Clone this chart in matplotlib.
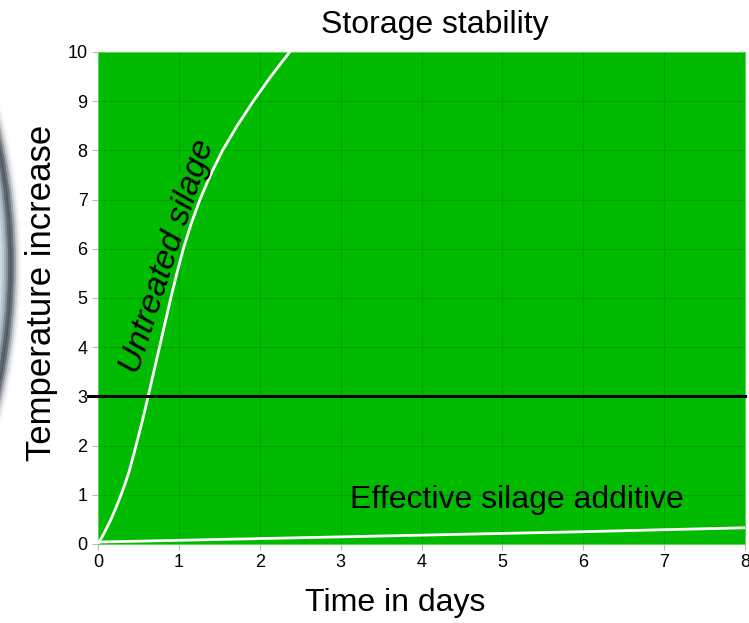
import numpy as np
import matplotlib.pyplot as plt
from matplotlib.patches import Ellipse

plt.rcParams['font.family'] = ['Liberation Sans', 'DejaVu Sans']

# Untreated silage
untreated_days = [0.00, 0.085, 0.16, 0.225, 0.285, 0.34, 0.39, 0.47, 0.548, 0.62,
                  0.69, 0.76, 0.83, 0.90, 0.975, 1.055, 1.15, 1.26, 1.39, 1.54,
                  1.72, 1.92, 2.135, 2.37]
untreated_temp = [0.0, 0.25, 0.5, 0.75, 1.0, 1.25, 1.5, 2.0, 2.5, 3.0,
                  3.5, 4.0, 4.5, 5.0, 5.5, 6.0, 6.5, 7.0, 7.5, 8.0,
                  8.5, 9.0, 9.5, 10.0]

# Effective silage additive
additive_days = [0, 2, 4, 6, 8]
additive_temp = [0.04, 0.11, 0.18, 0.25, 0.33]

threshold = 3
x_ticks = list(range(0, 9))
y_ticks = list(range(0, 11))

W, H = 749, 623
fig = plt.figure(figsize=(W / 100, H / 100), dpi=100)
ax = fig.add_axes([98 / W, 79 / H, 647 / W, 492 / H])

green = '#00bb00'
ax.set_facecolor(green)
ax.grid(True, color='#00a400', linewidth=0.8)
ax.set_axisbelow(True)
for sp in ax.spines.values():
    sp.set_color('#5fd35f')
    sp.set_linewidth(0.8)

ax.plot(untreated_days, untreated_temp, color='white', linewidth=2.0,
        solid_capstyle='round', solid_joinstyle='round', zorder=3)
ax.plot(additive_days, additive_temp, color='white', linewidth=2.0, zorder=3)
ax.plot([-0.12, 8], [threshold, threshold], color='black', linewidth=2.2,
        clip_on=False, zorder=4)

ax.set_xlim(0, 8)
ax.set_ylim(0, 10)
ax.set_xticks(x_ticks)
ax.set_yticks(y_ticks)
ax.tick_params(labelsize=13, colors='#bbbbbb', labelcolor='black', length=4, width=0.8)

fig.text(435 / W, 1 - 25 / H, 'Storage stability', fontsize=23,
         ha='center', va='center')
fig.text(395 / W, 1 - 603 / H, 'Time in days', fontsize=23,
         ha='center', va='center')
fig.text(42 / W, 1 - 293 / H, 'Temperature increase', fontsize=25,
         rotation=90, ha='center', va='center')

ax.text(0.86, 5.85, 'Untreated silage', fontsize=24, style='italic',
        rotation=72, ha='center', va='center', rotation_mode='anchor')
ax.text(5.18, 0.9, 'Effective silage additive', fontsize=23,
        ha='center', va='center')

# blurred ring decoration at the left edge
R = 600
cx, cy = -R + 11, H - 265
bands = [(-13, '#d3dde4', 0.2), (-11, '#bccbd6', 0.3), (-9, '#a7b9c6', 0.4),
         (-7, '#93a8b8', 0.45), (-5, '#7a90a0', 0.5), (-3, '#52626f', 0.55),
         (-1, '#2e3b46', 0.6), (1, '#27323c', 0.55), (3, '#3e4a55', 0.4),
         (5, '#5f6972', 0.25), (7, '#878e95', 0.14), (9, '#aab0b5', 0.07)]
for dr, col, a in bands:
    r = R + dr
    fig.add_artist(Ellipse((cx / W, cy / H), 2 * r / W, 2 * r / H,
                           transform=fig.transFigure, fill=False,
                           edgecolor=col, linewidth=2.8, alpha=a))

fig.savefig('out.png', dpi=100)
